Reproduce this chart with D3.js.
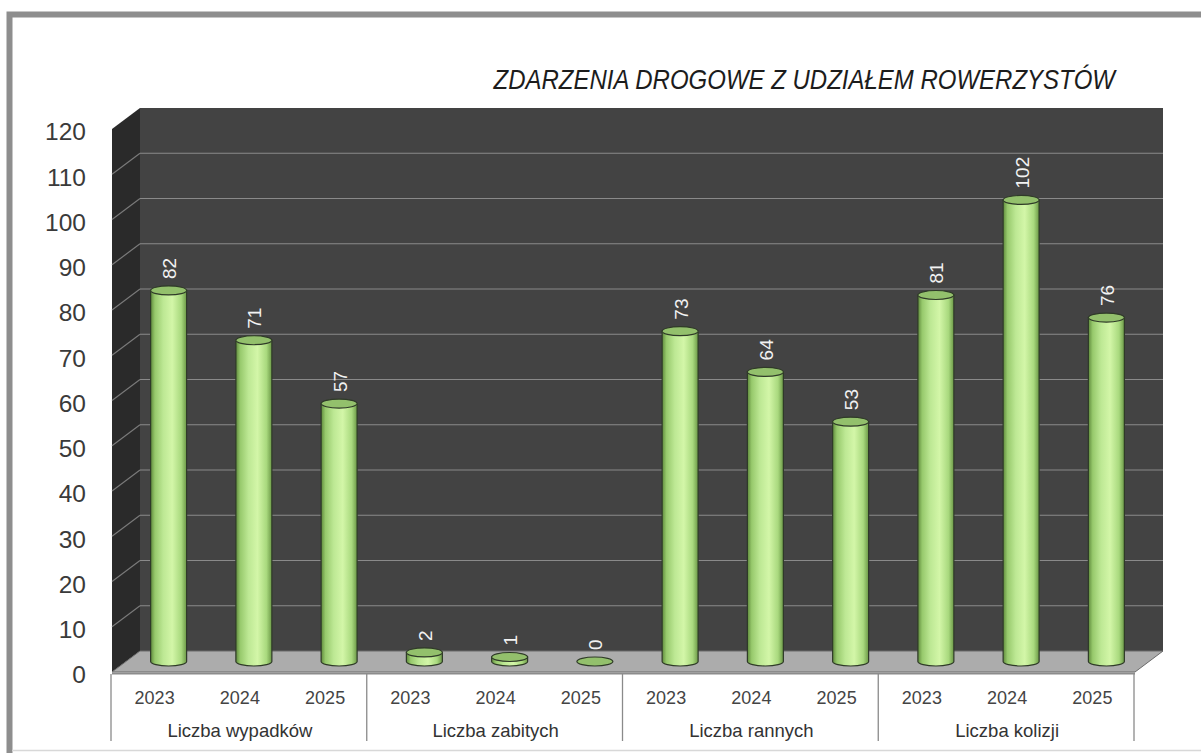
<!DOCTYPE html>
<html>
<head>
<meta charset="utf-8">
<script src="https://cdn.jsdelivr.net/npm/d3@7"></script>
<style>
  html, body { margin: 0; padding: 0; background: #fff; }
  svg { display: block; font-family: "Liberation Sans", Arial, sans-serif; }
</style>
</head>
<body>
<svg id="chart" width="1201" height="753"></svg>
<script>
// ---- data ----
const title = "ZDARZENIA DROGOWE Z UDZIAŁEM ROWERZYSTÓW";
const categories = ["Liczba wypadków", "Liczba zabitych", "Liczba rannych", "Liczba kolizji"];
const years = ["2023", "2024", "2025"];
const values2023 = [82, 2, 73, 81];
const values2024 = [71, 1, 64, 102];
const values2025 = [57, 0, 53, 76];
const yTicks = [0, 10, 20, 30, 40, 50, 60, 70, 80, 90, 100, 110, 120];

const seriesByYear = { "2023": values2023, "2024": values2024, "2025": values2025 };
const rows = [];
categories.forEach((c, i) => years.forEach(y => rows.push({ cat: c, year: y, value: seriesByYear[y][i] })));

// ---- geometry ----
const svg = d3.select("#chart");
const DX = 28, DY = 21;               // 3D depth offset
const frontLeft = 112, frontRight = 1135;
const yBack = d3.scaleLinear().domain([0, 120]).range([651, 108]);
const yFront = v => yBack(v) + DY;
const yMid = v => yBack(v) + DY / 2;

const xCat = d3.scaleBand().domain(categories).range([frontLeft, frontRight]);
const xYear = d3.scaleBand().domain(years).range([0, xCat.bandwidth()]);

// ---- outer frame ----
svg.append("path")
  .attr("d", `M9.5,760 L9.5,14.5 L1210,14.5`)
  .attr("fill", "none").attr("stroke", "#8e8e8e").attr("stroke-width", 6);
svg.append("line").attr("x1", 12).attr("x2", 1201).attr("y1", 750.5).attr("y2", 750.5)
  .attr("stroke", "#d8d8d8").attr("stroke-width", 1.5);

// ---- title ----
svg.append("text")
  .attr("transform", "translate(1115,89) scale(1,1.18)")
  .attr("text-anchor", "end")
  .attr("font-size", 24).attr("font-style", "italic")
  .attr("fill", "#1c1c1c")
  .text(title);

// ---- walls ----
const bx0 = frontLeft + DX, bx1 = frontRight + DX;
svg.append("rect")
  .attr("x", bx0).attr("y", yBack(120))
  .attr("width", bx1 - bx0).attr("height", yBack(0) - yBack(120))
  .attr("fill", "#434343");
svg.append("path")
  .attr("d", `M${frontLeft},${yFront(0)} L${frontLeft},${yFront(120)} L${bx0},${yBack(120)} L${bx0},${yBack(0)} Z`)
  .attr("fill", "#2a2a2a");

// gridlines
const gridVals = yTicks.filter(v => v > 0 && v < 120);
svg.append("g").selectAll("line.gb").data(gridVals).join("line")
  .attr("x1", bx0).attr("x2", bx1)
  .attr("y1", d => yBack(d)).attr("y2", d => yBack(d))
  .attr("stroke", "#8a8a8a").attr("stroke-width", 1.2);
svg.append("g").selectAll("line.gs").data(gridVals).join("line")
  .attr("x1", frontLeft).attr("x2", bx0)
  .attr("y1", d => yFront(d)).attr("y2", d => yBack(d))
  .attr("stroke", "#7a7a7a").attr("stroke-width", 1.2);

// floor
svg.append("path")
  .attr("d", `M${frontLeft},${yFront(0)} L${bx0},${yBack(0)} L${bx1},${yBack(0)} L${frontRight},${yFront(0)} Z`)
  .attr("fill", "#acacac").attr("stroke", "#6a6a6a").attr("stroke-width", 1);
svg.append("line")
  .attr("x1", frontLeft).attr("x2", frontRight)
  .attr("y1", yFront(0) + 1.5).attr("y2", yFront(0) + 1.5)
  .attr("stroke", "#8c8c8c").attr("stroke-width", 2);

// ---- y axis labels ----
const yAxis = d3.axisLeft(d3.scaleLinear().domain([0, 120]).range([yFront(0) + 3, yFront(120) + 3]))
  .tickValues(yTicks).tickSize(0).tickPadding(0);
const ga = svg.append("g").attr("transform", `translate(86,0)`).call(yAxis);
ga.select(".domain").remove();
ga.selectAll("text")
  .attr("font-size", 24.5).attr("fill", "#3a3a3a")
  .attr("font-family", "Liberation Sans, Arial, sans-serif");

// ---- gradients ----
const defs = svg.append("defs");
const grad = defs.append("linearGradient").attr("id", "cyl").attr("x1", "0%").attr("x2", "100%");
[[0, "#5f8a3c"], [0.12, "#97c96c"], [0.35, "#bde894"], [0.6, "#d3f6a8"], [0.85, "#a9d97e"], [1, "#6b9846"]]
  .forEach(([o, c]) => grad.append("stop").attr("offset", o).attr("stop-color", c));

// ---- bars (cylinders) ----
const R = 18, RY = 4.5;
const bars = svg.append("g");
rows.forEach(d => {
  const cx = xCat(d.cat) + xYear(d.year) + xYear.bandwidth() / 2 + DX / 2;
  const yb = yMid(0), yt = yMid(d.value);
  const g = bars.append("g");
  if (d.value > 0) {
    g.append("path")
      .attr("d", `M${cx - R},${yt} L${cx - R},${yb} A${R},${RY} 0 0 0 ${cx + R},${yb} L${cx + R},${yt} Z`)
      .attr("fill", "url(#cyl)").attr("stroke", "#2f3a28").attr("stroke-width", 1.2);
  }
  g.append("ellipse")
    .attr("cx", cx).attr("cy", yt).attr("rx", R).attr("ry", RY)
    .attr("fill", "#93c06c").attr("stroke", "#2f3a28").attr("stroke-width", 1.2);
  const lx = cx + 1, ly = yt - RY - 7;
  g.append("text")
    .attr("transform", `translate(${lx},${ly}) rotate(-90)`)
    .attr("text-anchor", "start").attr("dominant-baseline", "central")
    .attr("font-size", 19).attr("fill", "#f2f2f2")
    .text(d.value);
});

// ---- category axis table ----
const tableTop = yFront(0) + 2, tableBottom = 741;
const bounds = categories.map(c => xCat(c)).concat([frontRight]);
svg.append("g").selectAll("line").data(bounds).join("line")
  .attr("x1", d => d - 1).attr("x2", d => d - 1)
  .attr("y1", tableTop).attr("y2", tableBottom)
  .attr("stroke", "#8a8a8a").attr("stroke-width", 1.3);

const yearLabels = svg.append("g");
rows.forEach(d => {
  yearLabels.append("text")
    .attr("x", xCat(d.cat) + xYear(d.year) + xYear.bandwidth() / 2)
    .attr("y", 704)
    .attr("text-anchor", "middle").attr("font-size", 18).attr("fill", "#444")
    .text(d.year);
});
svg.append("g").selectAll("text").data(categories).join("text")
  .attr("x", d => xCat(d) + xCat.bandwidth() / 2)
  .attr("y", 737)
  .attr("text-anchor", "middle").attr("font-size", 18.5).attr("fill", "#333")
  .text(d => d);
</script>
</body>
</html>
